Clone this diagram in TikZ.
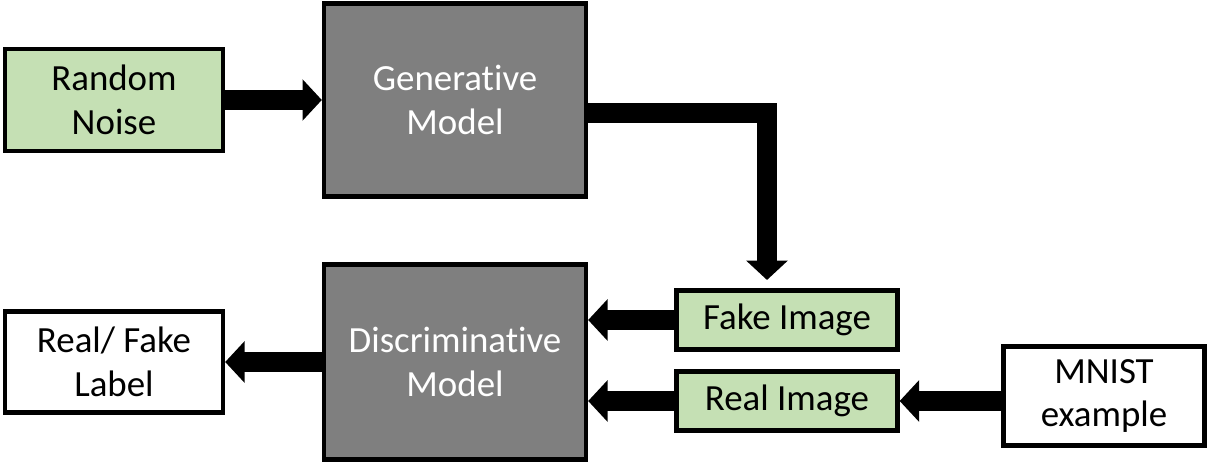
\documentclass[tikz,border=0pt]{standalone}
\usepackage{fontspec}
\setmainfont{Carlito}[Ligatures=NoCommon]
\usetikzlibrary{arrows.meta}
\definecolor{boxgreen}{HTML}{C5E0B4}
\definecolor{boxgray}{HTML}{7F7F7F}
\begin{document}
\begin{tikzpicture}[x=0.02cm,y=-0.02cm,
        box/.style={draw,line width=2.5pt,align=center,inner sep=0pt,
            font=\fontsize{21}{25}\selectfont},
        greenbox/.style={box,fill=boxgreen},
        graybox/.style={box,fill=boxgray,text=white,minimum width=5.24cm,minimum height=3.86cm},
        whitebox/.style={box,fill=white},
        fatarrow/.style={line width=11pt,line join=miter,-{Triangle[width=23pt,length=11pt]}}]
    \useasboundingbox (0,0) rectangle (1211,465);

    \node[greenbox,minimum width=4.36cm,minimum height=2.04cm] (noise) at (114,100) {Random\\Noise};
    \node[graybox] (gen) at (455,100) {Generative\\Model};
    \node[graybox,minimum height=3.9cm] (disc) at (455,362) {Discriminative\\Model};
    \node[whitebox,minimum width=4.36cm,minimum height=2.02cm] (label) at (114,362) {Real/ Fake\\Label};
    \node[greenbox,minimum width=4.42cm,minimum height=1.18cm] (fake) at (787,320) {Fake Image};
    \node[greenbox,minimum width=4.42cm,minimum height=1.18cm] (real) at (787,401) {Real Image};
    \node[whitebox,minimum width=4.02cm,minimum height=1.98cm] (mnist) at (1104,396) {MNIST\\example};

    \coordinate (bend) at (767,113);
    \coordinate (drop) at (767,280);

    \draw[fatarrow] (noise.east) -- (gen.west);
    \draw[fatarrow] (gen.east |- bend) -- (bend) -- (drop);
    \draw[fatarrow] (fake.west) -- (disc.east |- fake.west);
    \draw[fatarrow] (real.west) -- (disc.east |- real.west);
    \draw[fatarrow] (mnist.west |- real.east) -- (real.east);
    \draw[fatarrow] (disc.west) -- (label.east);
\end{tikzpicture}
\end{document}
